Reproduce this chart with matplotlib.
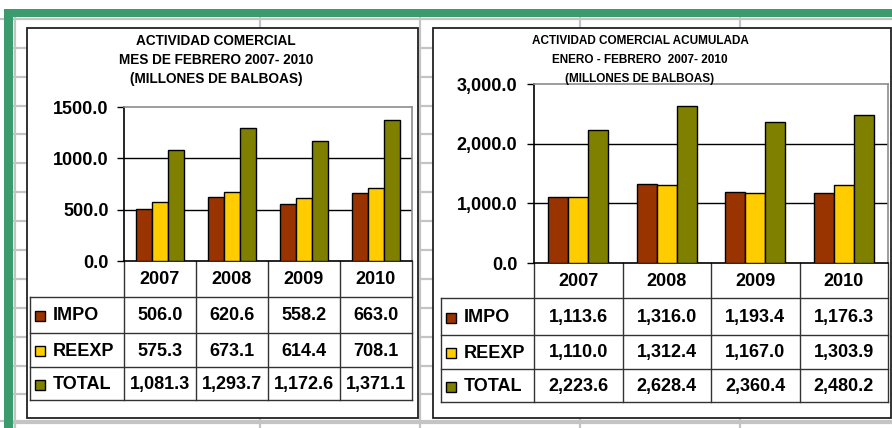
import matplotlib
matplotlib.use("Agg")
import matplotlib.pyplot as plt
from matplotlib.patches import Rectangle
import numpy as np

plt.rcParams['font.family'] = ['Liberation Sans', 'DejaVu Sans']
plt.rcParams['font.weight'] = 'bold'

# data
years = ['2007', '2008', '2009', '2010']
series = ['IMPO', 'REEXP', 'TOTAL']
colors = ['#993300', '#FFCC00', '#808000']

feb_impo = [506.0, 620.6, 558.2, 663.0]
feb_reexp = [575.3, 673.1, 614.4, 708.1]
feb_total = [1081.3, 1293.7, 1172.6, 1371.1]

acu_impo = [1113.6, 1316.0, 1193.4, 1176.3]
acu_reexp = [1110.0, 1312.4, 1167.0, 1303.9]
acu_total = [2223.6, 2628.4, 2360.4, 2480.2]

title_feb = ['ACTIVIDAD COMERCIAL', 'MES DE FEBRERO 2007- 2010', '(MILLONES DE BALBOAS)']
title_acu = ['ACTIVIDAD COMERCIAL ACUMULADA', 'ENERO - FEBRERO  2007- 2010', '(MILLONES DE BALBOAS)']

W, H = 892, 428
fig = plt.figure(figsize=(W / 100, H / 100), dpi=100)

# background: the spreadsheet behind the charts
bg = fig.add_axes([0, 0, 1, 1])
bg.set_xlim(0, W)
bg.set_ylim(H, 0)
bg.axis('off')

grid_col = '#c4c4c4'
for x in [15, 260, 420, 580, 740]:
    bg.plot([x, x], [17, H], color=grid_col, lw=1.6, zorder=1)
bg.plot([0, W], [18.5, 18.5], color=grid_col, lw=1.6, zorder=1)
for y in np.arange(47.7, H, 28.9):
    bg.plot([13, W], [y, y], color=grid_col, lw=1.6, zorder=1)
bg.plot([0, W], [420.5, 420.5], color=grid_col, lw=1.6, zorder=1)

green = '#3a9c6c'
bg.add_patch(Rectangle((4, 9), W - 4, 8, color=green, lw=0, zorder=2))
bg.add_patch(Rectangle((4, 9), 9, H - 9, color=green, lw=0, zorder=2))


def px_axes(x0, y0, x1, y1):
    return fig.add_axes([x0 / W, 1 - y1 / H, (x1 - x0) / W, (y1 - y0) / H])


def draw_chart(box, plot, tab_left, rows, title, title_x, title_size, ymax, ystep, yfmt, vals, pad):
    bx0, by0, bx1, by1 = box
    bg.add_patch(Rectangle((bx0, by0), bx1 - bx0, by1 - by0, facecolor='white',
                           edgecolor='#222222', lw=1.3, zorder=3))

    px0, py0, px1, py1 = plot
    ax = px_axes(px0, py0, px1, py1)
    ax.set_facecolor('none')
    x = np.arange(len(years))
    w = 0.225
    for i, (v, c) in enumerate(zip(vals, colors)):
        ax.bar(x + (i - 1) * w, v, w, color=c, edgecolor='black', lw=1.0, zorder=3)
    ax.set_xlim(-0.5, len(years) - 0.5)
    ax.set_ylim(0, ymax)
    ticks = np.arange(0, ymax + 1, ystep)
    ax.set_yticks(ticks)
    ax.set_yticklabels([yfmt.format(t) for t in ticks], fontsize=13, fontweight='bold')
    ax.tick_params(axis='y', length=5, width=1, pad=pad, color='black')
    ax.set_xticks([])
    for t in ticks[1:-1]:
        ax.axhline(t, color='black', lw=1, zorder=1)
    ax.spines['left'].set_color('black')
    ax.spines['bottom'].set_color('black')
    ax.spines['top'].set_color('#8c8c8c')
    ax.spines['right'].set_color('#8c8c8c')
    for s in ax.spines.values():
        s.set_linewidth(1.2)

    # title
    for k, line in enumerate(title):
        fig.text(title_x / W, 1 - (41 + 19 * k) / H, line, ha='center', va='center',
                 fontsize=title_size, fontweight='bold', zorder=10)

    # data table under the plot
    ncol = len(years)
    cols = [px0 + (px1 - px0) * j / ncol for j in range(ncol + 1)]
    lc = '#333333'
    for cx in cols:
        bg.plot([cx, cx], [rows[0], rows[-1]], color=lc, lw=1, zorder=4)
    bg.plot([tab_left, tab_left], [rows[1], rows[-1]], color=lc, lw=1, zorder=4)
    for ry in rows[1:]:
        bg.plot([tab_left, px1], [ry, ry], color=lc, lw=1, zorder=4)
    for j, yr in enumerate(years):
        bg.text((cols[j] + cols[j + 1]) / 2, (rows[0] + rows[1]) / 2 + 1, yr,
                ha='center', va='center', fontsize=13, fontweight='bold', zorder=5)
    for i, (name, v, c) in enumerate(zip(series, vals, colors)):
        yc = (rows[i + 1] + rows[i + 2]) / 2 + 1
        bg.add_patch(Rectangle((tab_left + 5, yc - 5), 10, 10, facecolor=c,
                               edgecolor='black', lw=1, zorder=5))
        bg.text(tab_left + 23, yc, name, ha='left', va='center', fontsize=13,
                fontweight='bold', zorder=5)
        for j in range(ncol):
            bg.text((cols[j] + cols[j + 1]) / 2, yc, '{:,.1f}'.format(v[j]),
                    ha='center', va='center', fontsize=13, fontweight='bold', zorder=5)
    return ax


draw_chart((27, 28, 418, 418), (124, 107, 412, 261), 30, [261, 297, 333, 367, 400],
           title_feb, 216, 9.8, 1500, 500, '{:.1f}',
           [feb_impo, feb_reexp, feb_total], 6)

draw_chart((433, 28, 891, 418), (534, 84, 888, 263), 441, [263, 298, 335, 369, 402],
           title_acu, 640, 8.5, 3000, 1000, '{:,.1f}',
           [acu_impo, acu_reexp, acu_total], 7)

fig.savefig('out.png', dpi=100)
